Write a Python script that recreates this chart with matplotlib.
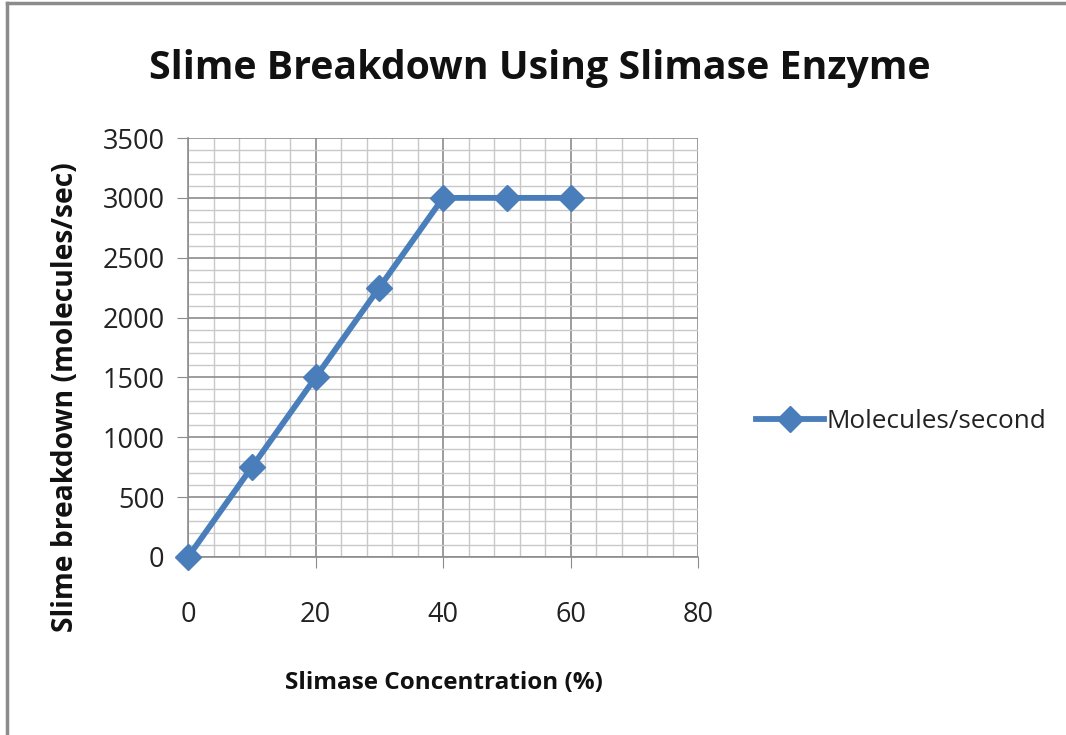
import matplotlib
matplotlib.use("Agg")
import matplotlib.pyplot as plt
from matplotlib.ticker import MultipleLocator
from matplotlib.lines import Line2D

concentration = [0, 10, 20, 30, 40, 50, 60]
breakdown = [0, 750, 1500, 2250, 3000, 3000, 3000]
series_name = "Molecules/second"
title = "Slime Breakdown Using Slimase Enzyme"
xlabel = "Slimase Concentration (%)"
ylabel = "Slime breakdown (molecules/sec)"

plt.rcParams['font.family'] = ['Open Sans', 'DejaVu Sans']

fig = plt.figure(figsize=(10.66, 7.35), dpi=100)
ax = fig.add_axes([0.1764, 0.2422, 0.4784, 0.5700])

line_color = "#4a7ebb"
ax.plot(concentration, breakdown, color=line_color, lw=4.2, marker="D",
        markersize=13, markeredgecolor=line_color, markerfacecolor=line_color,
        label=series_name, zorder=5, clip_on=False)

ax.set_xlim(0, 80)
ax.set_ylim(0, 3500)
ax.xaxis.set_major_locator(MultipleLocator(20))
ax.xaxis.set_minor_locator(MultipleLocator(4))
ax.yaxis.set_major_locator(MultipleLocator(500))
ax.yaxis.set_minor_locator(MultipleLocator(100))
ax.grid(which="major", color="#8c8c8c", lw=1.2)
ax.grid(which="minor", color="#c8c8c8", lw=1.0)
ax.set_axisbelow(True)

for s in ["top", "right"]:
    ax.spines[s].set_visible(False)
for s in ["left", "bottom"]:
    ax.spines[s].set_color("#8c8c8c")
    ax.spines[s].set_linewidth(1.2)

ax.tick_params(axis="both", which="minor", length=0)
ax.tick_params(axis="x", which="major", direction="out", length=8, color="#8c8c8c",
               labelsize=19.5, pad=24, labelcolor="#222222")
ax.tick_params(axis="y", which="major", direction="out", length=8, color="#8c8c8c",
               labelsize=19.5, pad=9, labelcolor="#222222")

fig.text(0.506, 0.907, title, ha="center", va="center", fontsize=28.3,
         fontweight="bold", color="#111111")
fig.text(0.416, 0.071, xlabel, ha="center", va="center", fontsize=17.5,
         fontweight="bold", color="#111111")
fig.text(0.061, 0.46, ylabel, ha="center", va="center", fontsize=20.3,
         fontweight="bold", rotation=90, color="#111111")

handle = Line2D([], [], color=line_color, lw=4.2, marker="D", markersize=13)
fig.legend([handle], [series_name], loc="center left",
           bbox_to_anchor=(0.709, 0.427), frameon=False, fontsize=18.8,
           handlelength=2.6, handletextpad=0.1, labelcolor="#222222",
           borderaxespad=0, borderpad=0)

# figure border lines (left and top)
fig.add_artist(Line2D([0.0062, 0.0062], [0, 0.996], color="#8c8c8c", lw=2.5,
                      transform=fig.transFigure))
fig.add_artist(Line2D([0.0062, 1.0], [0.996, 0.996], color="#8c8c8c", lw=2.5,
                      transform=fig.transFigure))

fig.savefig("out.png", dpi=100)
